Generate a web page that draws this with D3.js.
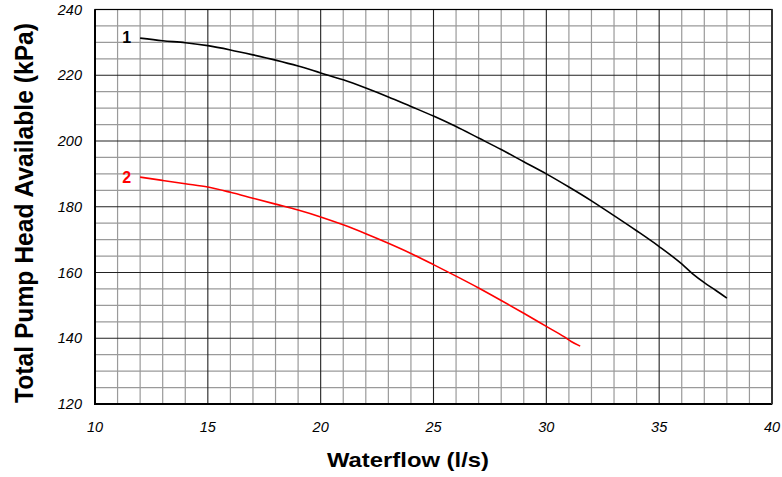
<!DOCTYPE html>
<html>
<head>
<meta charset="utf-8">
<script src="https://cdn.jsdelivr.net/npm/d3@7"></script>
<style>
  body { margin: 0; background: #fff; }
  text { font-family: "Liberation Sans", Arial, sans-serif; }
</style>
</head>
<body>
<svg id="chart" width="782" height="477"></svg>
<script>
// pump curve 1 (black) and 2 (red), flow in l/s, head in kPa
const flow1 = [12, 13, 14, 15, 16, 17, 18, 19, 20, 21, 22, 23, 24, 25, 26, 27, 28, 29, 30, 31, 32, 33, 34, 35, 36, 36.5, 37, 37.5, 38];
const head1 = [231.3, 230.5, 229.9, 229.0, 227.7, 226.2, 224.6, 222.8, 220.7, 218.6, 216.1, 213.4, 210.5, 207.6, 204.4, 200.9, 197.4, 193.7, 190.0, 186.0, 181.8, 177.3, 172.7, 167.9, 162.6, 159.5, 156.9, 154.6, 152.2];
const flow2 = [12, 13, 14, 15, 16, 17, 18, 19, 20, 21, 22, 23, 24, 25, 26, 27, 28, 29, 30, 30.8, 31.1, 31.5];
const head2 = [189.0, 188.0, 187.0, 186.0, 184.4, 182.6, 180.8, 179.0, 176.9, 174.5, 171.8, 168.9, 165.8, 162.4, 158.9, 155.3, 151.5, 147.6, 143.6, 140.4, 139.0, 137.6];
const xTicks = [10, 15, 20, 25, 30, 35, 40];
const yTicks = [120, 140, 160, 180, 200, 220, 240];

const svg = d3.select("#chart");
const pLeft = 95, pRight = 772, pTop = 9.5, pBottom = 404;

const x = d3.scaleLinear().domain([10, 40]).range([pLeft, pRight]);
const y = d3.scaleLinear().domain([120, 240]).range([pBottom, pTop]);

const g = svg.append("g");

// minor grid
g.selectAll(".vminor").data(d3.range(10, 41, 1).filter(d => d % 5 != 0))
  .enter().append("line")
  .attr("x1", d => x(d)).attr("x2", d => x(d))
  .attr("y1", pTop).attr("y2", pBottom)
  .attr("stroke", "#9a9a9a").attr("stroke-width", 1.2);
g.selectAll(".hminor").data(d3.range(120, 241, 5).filter(d => d % 20 != 0))
  .enter().append("line")
  .attr("x1", pLeft).attr("x2", pRight)
  .attr("y1", d => y(d)).attr("y2", d => y(d))
  .attr("stroke", "#9a9a9a").attr("stroke-width", 1.2);

// major grid
g.selectAll(".vmajor").data(xTicks)
  .enter().append("line")
  .attr("x1", d => x(d)).attr("x2", d => x(d))
  .attr("y1", pTop).attr("y2", pBottom)
  .attr("stroke", "#222").attr("stroke-width", 1.1);
g.selectAll(".hmajor").data(yTicks)
  .enter().append("line")
  .attr("x1", pLeft).attr("x2", pRight)
  .attr("y1", d => y(d)).attr("y2", d => y(d))
  .attr("stroke", "#222").attr("stroke-width", 1.1);

// frame
g.append("rect")
  .attr("x", pLeft).attr("y", pTop)
  .attr("width", pRight - pLeft).attr("height", pBottom - pTop)
  .attr("fill", "none").attr("stroke", "#000").attr("stroke-width", 1.2);
g.append("line").attr("x1", pLeft).attr("x2", pLeft).attr("y1", pTop).attr("y2", pBottom + 1)
  .attr("stroke", "#000").attr("stroke-width", 2);
g.append("line").attr("x1", pLeft - 1).attr("x2", pRight).attr("y1", pBottom).attr("y2", pBottom)
  .attr("stroke", "#000").attr("stroke-width", 2);
g.append("line").attr("x1", pRight).attr("x2", pRight).attr("y1", pTop).attr("y2", pBottom)
  .attr("stroke", "#333").attr("stroke-width", 2);

// tick labels
svg.selectAll(".xlab").data(xTicks)
  .enter().append("text")
  .attr("x", d => x(d)).attr("y", 432)
  .attr("text-anchor", "middle")
  .attr("font-size", 14.5).attr("font-style", "italic")
  .text(d => d);
svg.selectAll(".ylab").data(yTicks)
  .enter().append("text")
  .attr("x", 82).attr("y", d => y(d) + 5)
  .attr("text-anchor", "end")
  .attr("font-size", 14.5).attr("font-style", "italic")
  .text(d => d);

// axis titles
svg.append("text")
  .attr("x", 408).attr("y", 467)
  .attr("text-anchor", "middle")
  .attr("font-size", 21).attr("font-weight", "bold")
  .attr("textLength", 162).attr("lengthAdjust", "spacingAndGlyphs")
  .text("Waterflow (l/s)");
svg.append("text")
  .attr("transform", "translate(33,213) rotate(-90)")
  .attr("text-anchor", "middle")
  .attr("font-size", 25).attr("font-weight", "bold")
  .attr("textLength", 380).attr("lengthAdjust", "spacingAndGlyphs")
  .text("Total Pump Head Available (kPa)");

// curves
const line = d3.line().x(d => x(d[0])).y(d => y(d[1])).curve(d3.curveMonotoneX);
svg.append("path")
  .attr("d", line(d3.zip(flow1, head1)))
  .attr("fill", "none").attr("stroke", "#000").attr("stroke-width", 1.6);
svg.append("path")
  .attr("d", line(d3.zip(flow2, head2)))
  .attr("fill", "none").attr("stroke", "#ff0000").attr("stroke-width", 1.6);

// curve labels
svg.append("text")
  .attr("x", x(flow1[0]) - 9).attr("y", y(head1[0]) + 5)
  .attr("text-anchor", "end")
  .attr("font-size", 16).attr("font-weight", "bold").attr("fill", "#000")
  .text("1");
svg.append("text")
  .attr("x", x(flow2[0]) - 9).attr("y", y(head2[0]) + 6)
  .attr("text-anchor", "end")
  .attr("font-size", 16).attr("font-weight", "bold").attr("fill", "#ff0000")
  .text("2");
</script>
</body>
</html>
